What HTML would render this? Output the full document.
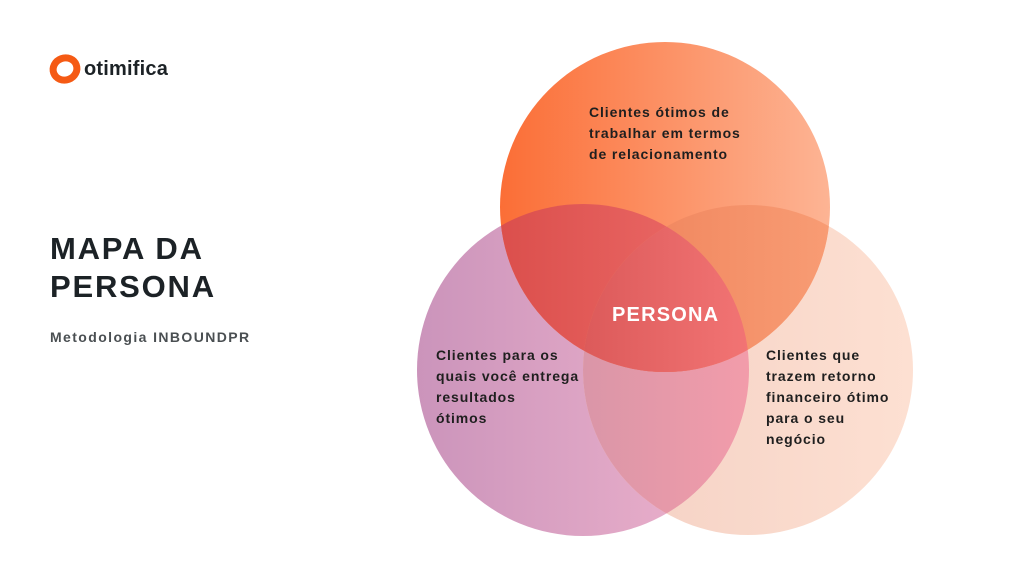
<!DOCTYPE html>
<html><head><meta charset="utf-8"><style>
body{margin:0;width:1024px;height:576px;background:#fff;overflow:hidden;position:relative;font-family:"Liberation Sans",sans-serif}
.t{position:absolute;font-weight:bold;color:#1f1f1f;font-size:14px;line-height:21px;white-space:nowrap;letter-spacing:0.9px}
</style></head><body>
<svg width="1024" height="576" style="position:absolute;left:0;top:0">
<defs>
<linearGradient id="gt" x1="500" x2="830" gradientUnits="userSpaceOnUse"><stop offset="0" stop-color="#fb6e36"/><stop offset="1" stop-color="#fdb494"/></linearGradient>
<linearGradient id="gl" x1="417" x2="749" gradientUnits="userSpaceOnUse"><stop offset="0" stop-color="#cb94bb"/><stop offset="1" stop-color="#efb4cd"/></linearGradient>
<linearGradient id="gr" x1="583" x2="913" gradientUnits="userSpaceOnUse"><stop offset="0" stop-color="#f4d0c3"/><stop offset="1" stop-color="#fde0d2"/></linearGradient>
<linearGradient id="gtl" x1="500" x2="749" gradientUnits="userSpaceOnUse"><stop offset="0" stop-color="#db4f4c"/><stop offset="1" stop-color="#ee6e6c"/></linearGradient>
<linearGradient id="gtr" x1="583" x2="830" gradientUnits="userSpaceOnUse"><stop offset="0" stop-color="#ee8058"/><stop offset="1" stop-color="#f89c74"/></linearGradient>
<linearGradient id="glr" x1="583" x2="749" gradientUnits="userSpaceOnUse"><stop offset="0" stop-color="#da96a8"/><stop offset="1" stop-color="#f29caa"/></linearGradient>
<linearGradient id="ga" x1="583" x2="749" gradientUnits="userSpaceOnUse"><stop offset="0" stop-color="#dc5a5a"/><stop offset="1" stop-color="#f27474"/></linearGradient>
<clipPath id="cT"><circle cx="665" cy="207" r="165"/></clipPath>
<clipPath id="cL"><circle cx="583" cy="370" r="166"/></clipPath>
<clipPath id="cR"><circle cx="748" cy="370" r="165"/></clipPath>
</defs>
<circle cx="583" cy="370" r="166" fill="url(#gl)"/>
<circle cx="748" cy="370" r="165" fill="url(#gr)"/>
<circle cx="665" cy="207" r="165" fill="url(#gt)"/>
<g clip-path="url(#cL)"><circle cx="748" cy="370" r="165" fill="url(#glr)"/></g>
<g clip-path="url(#cL)"><circle cx="665" cy="207" r="165" fill="url(#gtl)"/></g>
<g clip-path="url(#cR)"><circle cx="665" cy="207" r="165" fill="url(#gtr)"/></g>
<g clip-path="url(#cL)"><g clip-path="url(#cR)"><circle cx="665" cy="207" r="165" fill="url(#ga)"/></g></g>
<ellipse cx="65" cy="69" rx="12" ry="11" fill="none" stroke="#f55a14" stroke-width="7" transform="rotate(-20 65 69)"/>
</svg>
<div class="t" style="left:84px;top:56px;font-size:20px;line-height:26px;color:#1c2226;letter-spacing:0.2px">otimifica</div>
<div class="t" style="left:50px;top:230px;font-size:31px;line-height:38px;color:#1c2226;letter-spacing:1.8px">MAPA DA<br>PERSONA</div>
<div class="t" style="left:50px;top:327px;font-size:14px;color:#4a4f52;letter-spacing:1.4px">Metodologia INBOUNDPR</div>
<div class="t" style="left:589px;top:102px">Clientes ótimos de<br>trabalhar em termos<br>de relacionamento</div>
<div class="t" style="left:436px;top:345px">Clientes para os<br>quais você entrega<br>resultados<br>ótimos</div>
<div class="t" style="left:766px;top:345px">Clientes que<br>trazem retorno<br>financeiro ótimo<br>para o seu<br>negócio</div>
<div class="t" style="left:612px;top:303px;font-size:20px;line-height:24px;color:#fff;letter-spacing:1.2px">PERSONA</div>
</body></html>
